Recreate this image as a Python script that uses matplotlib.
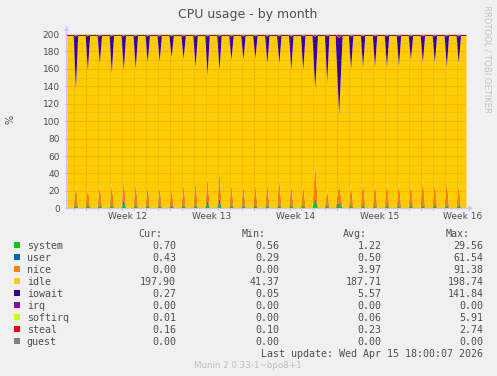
import matplotlib
matplotlib.use('Agg')
import matplotlib.pyplot as plt
import matplotlib.dates as mdates
from matplotlib.patches import Polygon, Rectangle
from matplotlib.lines import Line2D
from matplotlib.ticker import NullFormatter, FixedLocator
import numpy as np
from datetime import datetime, timedelta

W, H = 497, 376
plt.rcParams['font.family'] = ['DejaVu Sans']

# ---------------- data ----------------
series_names = ['system', 'user', 'nice', 'idle', 'iowait', 'irq', 'softirq', 'steal', 'guest']
series_colors = ['#00CC00', '#0066B3', '#FF8000', '#FFCC00', '#330099',
                 '#990099', '#CCFF00', '#FF0000', '#808080']
cur_vals = [0.70, 0.43, 0.00, 197.90, 0.27, 0.00, 0.01, 0.16, 0.00]
min_vals = [0.56, 0.29, 0.00, 41.37, 0.05, 0.00, 0.00, 0.10, 0.00]
avg_vals = [1.22, 0.50, 3.97, 187.71, 5.57, 0.00, 0.06, 0.23, 0.00]
max_vals = [29.56, 61.54, 91.38, 198.74, 141.84, 0.00, 5.91, 2.74, 0.00]

total_capacity = 199.6
view_start = datetime(2026, 3, 13, 9, 0)
view_end = datetime(2026, 4, 15, 18, 0)
first_spike = datetime(2026, 3, 14, 2, 30)   # daily job, one spike per day

# values at the daily spike (33 days)
iowait_peak = [60, 39, 31, 42, 39, 37, 30, 29, 24, 26,
               35, 44, 39, 27, 26.5, 25, 31, 31, 39, 39,
               60, 52, 88, 38, 35, 35, 35, 34, 27, 30,
               30, 35, 31]
nice_peak = [22, 20, 23, 24, 24, 25, 22, 21, 17, 23,
             27, 27, 33, 23, 22, 23, 24, 30, 24, 23,
             40, 17, 21, 24, 27, 26, 27, 26, 26, 30,
             27, 29, 24]
system_peak = [4, 4, 4, 4, 6, 4, 4, 4, 4, 4,
               4, 6, 7, 4, 4, 4, 4, 4, 4, 4,
               9, 4, 5, 4, 4, 4, 4, 4, 4, 4,
               4, 4, 4]
user_peak = [1, 1, 1, 1, 4, 1, 1, 1, 1, 1,
             1, 3, 4, 1, 1, 1, 1, 1, 1, 1,
             3, 1, 2, 1, 1, 1, 1, 1, 1, 1,
             1, 1, 1]
steal_peak = [1.2, 1.2, 1.2, 1.2, 1.2, 1.2, 1.2, 1.2, 1.2, 1.2,
              1.2, 1.2, 1.2, 1.2, 1.2, 1.2, 1.2, 1.2, 1.2, 1.2,
              1.5, 1.2, 2.7, 1.2, 1.2, 1.2, 1.2, 1.2, 1.2, 1.2,
              1.2, 1.2, 1.2]
softirq_peak = [0.5, 0.5, 0.5, 0.5, 0.5, 0.5, 0.5, 0.5, 0.5, 0.5,
                0.5, 0.5, 0.5, 0.5, 0.5, 0.5, 0.5, 0.5, 0.5, 0.5,
                0.5, 0.5, 0.5, 0.5, 0.5, 0.5, 0.5, 0.5, 0.5, 0.5,
                0.5, 0.5, 0.5]
spike_width_h = [9, 9, 9, 9, 9, 9, 9, 9, 9, 9,
                 9, 9, 9, 9, 9, 9, 9, 9, 9, 9,
                 11, 9, 14, 9, 9, 9, 9, 9, 9, 9,
                 9, 9, 9]
baseline_vals = {'system': 0.9, 'user': 0.43, 'nice': 0.0, 'iowait': 1.0,
                 'irq': 0.0, 'softirq': 0.01, 'steal': 0.16, 'guest': 0.0}

week_labels = ['Week 12', 'Week 13', 'Week 14', 'Week 15', 'Week 16']
first_week_start = datetime(2026, 3, 15)
y_ticks = [0, 20, 40, 60, 80, 100, 120, 140, 160, 180, 200]

title = 'CPU usage - by month'
last_update = 'Last update: Wed Apr 15 18:00:07 2026'
munin_version = 'Munin 2.0.33-1~bpo8+1'
side_text = 'RRDTOOL / TOBI OETIKER'

# ---------------- build time series ----------------
peaks = {'system': system_peak, 'user': user_peak, 'nice': nice_peak,
         'iowait': iowait_peak, 'softirq': softirq_peak, 'steal': steal_peak}
times = [view_start]
vals = {n: [baseline_vals.get(n, 0.0)] for n in series_names if n != 'idle'}
for k in range(len(iowait_peak)):
    t = first_spike + timedelta(days=k)
    hw = timedelta(hours=spike_width_h[k] / 2)
    times += [t - hw, t, t + hw]
    for n in vals:
        b = baseline_vals.get(n, 0.0)
        p = peaks[n][k] if n in peaks else b
        vals[n] += [b, p, b]
times.append(view_end)
for n in vals:
    vals[n].append(baseline_vals.get(n, 0.0))

x = mdates.date2num(times)
others = np.sum([np.array(vals[n]) for n in vals], axis=0)
vals['idle'] = list(total_capacity - others)

# ---------------- figure ----------------
BG = '#F0F0F0'
TXT = '#4f4f4f'
fig = plt.figure(figsize=(W / 100, H / 100), dpi=100, facecolor=BG)

def fx(px):
    return px / W

def fy(py):
    return 1 - py / H

L, R, T, B = 66.7, 466.0, 34.0, 208.3
ax = fig.add_axes([fx(L), fy(B), (R - L) / W, (B - T) / H])
ax.set_facecolor('white')

lower = np.zeros(len(x))
for n, c in zip(series_names, series_colors):
    v = np.array(vals[n], dtype=float)
    upper = lower + v
    ax.fill_between(x, lower, upper, color=c, lw=0, zorder=1)
    lower = upper

ax.set_xlim(mdates.date2num(view_start), mdates.date2num(view_end))
ax.set_ylim(0, 200)

week_starts = [first_week_start + timedelta(days=7 * i) for i in range(len(week_labels))]
day_marks = [first_week_start + timedelta(days=d) for d in range(-2, 32)]
ax.xaxis.set_major_locator(FixedLocator(mdates.date2num(week_starts)))
ax.xaxis.set_minor_locator(FixedLocator(mdates.date2num(day_marks)))
ax.xaxis.set_major_formatter(NullFormatter())
ax.xaxis.set_minor_formatter(NullFormatter())
ax.set_yticks(y_ticks)
ax.set_yticks(np.arange(10, 200, 20), minor=True)

ax.set_axisbelow(False)
ax.grid(which='major', color='#FF0000', alpha=0.38, linestyle=(0, (1, 2)), lw=0.72)
ax.grid(which='minor', color='#909090', alpha=0.45, linestyle=(0, (1, 2)), lw=0.72)

ax.tick_params(axis='y', which='major', length=1.5, width=0.7, color='#FF8080',
               pad=3.4, labelsize=6.5, labelcolor=TXT)
ax.tick_params(axis='y', which='minor', length=0)
ax.tick_params(axis='x', which='major', length=1.5, width=0.7, color='#FF8080', pad=0)
ax.tick_params(axis='x', which='minor', length=1.5, width=0.7, color='#C0C0C0')
for s in ax.spines.values():
    s.set_visible(False)

xt = ax.get_xaxis_transform()
for ws, lab in zip(week_starts, week_labels):
    ax.text(mdates.date2num(ws + timedelta(days=3.5)), (B - 219.3) / (B - T), lab,
            transform=xt, ha='center', va='baseline', fontsize=6.5, color=TXT,
            clip_on=False)

# axis lines and arrows (rrdtool style)
AX = '#C8C8F4'
fig.add_artist(Line2D([fx(L - 0.3), fx(L - 0.3)], [fy(B), fy(30)], color=AX, lw=0.8))
fig.add_artist(Line2D([fx(L), fx(469)], [fy(B), fy(B)], color=AX, lw=0.8))
fig.add_artist(Polygon([[fx(63.8), fy(30.8)], [fx(69.2), fy(30.8)], [fx(66.4), fy(25.5)]],
                       closed=True, color=AX, lw=0))
fig.add_artist(Polygon([[fx(468.3), fy(205.3)], [fx(468.3), fy(211.3)], [fx(473.5), fy(208.3)]],
                       closed=True, color=AX, lw=0))

# texts
fig.text(fx(248), fy(18.3), title, ha='center', va='baseline', fontsize=9, color=TXT)
fig.text(fx(10.8), fy(119.5), '%', ha='center', va='center', rotation=90,
         fontsize=7, color=TXT)
fig.text(fx(487.5), fy(5), side_text, ha='center', va='top', rotation=270,
         fontsize=6, color='#C4C4C4')

MONO = 'DejaVu Sans Mono'
FS = 7.2
hdr_base = 237
for lab, xr in zip(['Cur:', 'Min:', 'Avg:', 'Max:'], [162.7, 265.7, 367.3, 469.3]):
    fig.text(fx(xr), fy(hdr_base), lab, ha='right', va='baseline',
             family=MONO, fontsize=FS, color=TXT)
col_right = [176, 279.3, 381.3, 483.3]
for i, (n, c) in enumerate(zip(series_names, series_colors)):
    yb = 249 + 12 * i
    fig.add_artist(Rectangle((fx(14), fy(yb - 0.7)), 6 / W, 6 / H, color=c, lw=0))
    fig.text(fx(26.7), fy(yb), n, ha='left', va='baseline', family=MONO,
             fontsize=FS, color=TXT)
    for arr, xr in zip([cur_vals, min_vals, avg_vals, max_vals], col_right):
        fig.text(fx(xr), fy(yb), '%.2f' % arr[i], ha='right', va='baseline',
                 family=MONO, fontsize=FS, color=TXT)
fig.text(fx(483.3), fy(357.3), last_update, ha='right', va='baseline',
         family=MONO, fontsize=FS, color=TXT)
fig.text(fx(248), fy(368.3), munin_version, ha='center', va='baseline',
         fontsize=6.3, color='#C0C0C0')

fig.savefig('out.png', dpi=100, facecolor=BG)
